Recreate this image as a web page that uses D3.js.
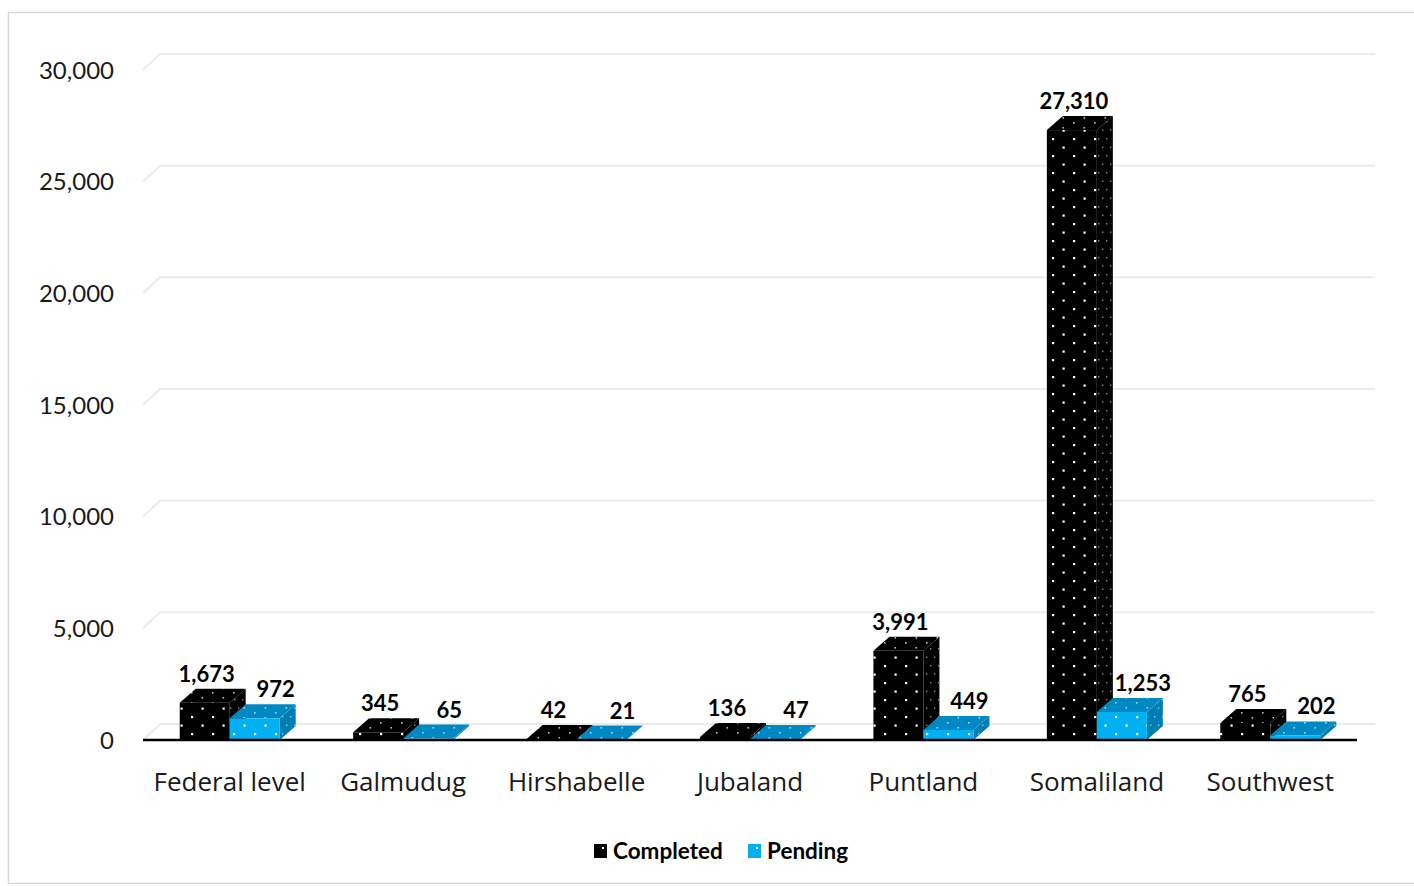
<!DOCTYPE html>
<html>
<head>
<meta charset="utf-8">
<script src="https://cdn.jsdelivr.net/npm/d3@7"></script>
<style>
  body { margin: 0; background: #fff; }
  text { font-family: Lato, "Open Sans", sans-serif; }
</style>
</head>
<body>
<div id="chart"></div>
<script>
// data
const categories = ["Federal level", "Galmudug", "Hirshabelle", "Jubaland", "Puntland", "Somaliland", "Southwest"];
const completed = [1673, 345, 42, 136, 3991, 27310, 765];
const pending = [972, 65, 21, 47, 449, 1253, 202];
const seriesNames = ["Completed", "Pending"];
const yTicks = [0, 5000, 10000, 15000, 20000, 25000, 30000];

const width = 1414, height = 886;
const plotLeft = 143, plotRight = 1357, plotBase = 740, plotTop = 70;
const dx = 17, dy = -16;   // depth of floor/walls
const bdx = 16, bdy = -14; // depth of bars

const svg = d3.select("#chart").append("svg").attr("width", width).attr("height", height);

// patterns
const defs = svg.append("defs");
function dots(id, bg, dot, w, h, r) {
  const p = defs.append("pattern").attr("id", id).attr("patternUnits", "userSpaceOnUse")
    .attr("width", w).attr("height", h);
  p.append("rect").attr("width", w).attr("height", h).attr("fill", bg);
  p.append("rect").attr("x", 2).attr("y", 2).attr("width", r).attr("height", r).attr("fill", dot);
  p.append("rect").attr("x", 2 + w / 2).attr("y", 2 + h / 2).attr("width", r).attr("height", r).attr("fill", dot);
}
dots("cFront", "#000", "#fff", 21, 17, 2.2);
dots("cTop", "#000", "#bbb", 21, 10, 1.6);
dots("cSide", "#000", "#888", 8, 17, 1.4);
dots("pFront", "#00b0f0", "#fff", 21, 17, 2.2);
dots("pTop", "#0088c2", "#9fd6ee", 21, 10, 1.6);
dots("pSide", "#007eb3", "#8fcbe6", 8, 17, 1.4);

// chart border
svg.append("rect").attr("x", 8.5).attr("y", 12.5).attr("width", 1420).attr("height", 871)
  .attr("fill", "none").attr("stroke", "#d9d9d9").attr("stroke-width", 1.5);

const x = d3.scaleBand().domain(categories).range([plotLeft, plotRight]);
const y = d3.scaleLinear().domain([0, 30000]).range([plotBase, plotTop]);

// gridlines on back wall with left wall diagonal
const grid = svg.append("g");
yTicks.forEach(t => {
  grid.append("polyline")
    .attr("points", `${plotLeft},${y(t)} ${plotLeft + dx},${y(t) + dy} ${plotRight + 18},${y(t) + dy}`)
    .attr("fill", "none").attr("stroke", "#ebebeb").attr("stroke-width", 2);
});

// y axis labels
const yAxis = svg.append("g").attr("transform", `translate(${plotLeft - 26},0)`)
  .call(d3.axisLeft(y).tickValues(yTicks).tickSize(0).tickFormat(d3.format(",")));
yAxis.select(".domain").remove();
yAxis.selectAll("text").attr("font-size", 24).attr("fill", "#1a1a1a").attr("dy", "0.34em")
  .style("font-family", "Lato, sans-serif");

// bars
const barW = 50;
const styles = [
  { front: "url(#cFront)", top: "url(#cTop)", side: "url(#cSide)", shift: 2 },
  { front: "url(#pFront)", top: "url(#pTop)", side: "url(#pSide)", shift: 21 }
];
const bars = svg.append("g");
const labels = svg.append("g");
categories.forEach((c, i) => {
  [completed[i], pending[i]].forEach((v, s) => {
    const x0 = x(c) + x.bandwidth() / 2 - barW + s * barW;
    const yt = y(v);
    const g = bars.append("g");
    g.append("polygon").attr("fill", styles[s].side)
      .attr("points", `${x0 + barW},${yt} ${x0 + barW + bdx},${yt + bdy} ${x0 + barW + bdx},${plotBase + bdy} ${x0 + barW},${plotBase}`);
    g.append("polygon").attr("fill", styles[s].top)
      .attr("points", `${x0},${yt} ${x0 + bdx},${yt + bdy} ${x0 + barW + bdx},${yt + bdy} ${x0 + barW},${yt}`);
    g.append("rect").attr("x", x0).attr("y", yt).attr("width", barW).attr("height", plotBase - yt)
      .attr("fill", styles[s].front);
    labels.append("text")
      .attr("x", x0 + barW / 2 + styles[s].shift).attr("y", yt + bdy - 7)
      .attr("text-anchor", "middle").attr("font-size", 22).attr("font-weight", "bold")
      .attr("fill", "#000").text(d3.format(",")(v));
  });
});

// x axis
svg.append("line").attr("x1", plotLeft).attr("x2", plotRight).attr("y1", plotBase).attr("y2", plotBase)
  .attr("stroke", "#000").attr("stroke-width", 2.5);
svg.append("g").selectAll("text").data(categories).enter().append("text")
  .attr("x", d => x(d) + x.bandwidth() / 2).attr("y", 791)
  .attr("text-anchor", "middle").attr("font-size", 26).attr("fill", "#1a1a1a")
  .style("font-family", "'Open Sans', sans-serif").text(d => d);

// legend
const legend = svg.append("g");
const legendX = [594, 748];
seriesNames.forEach((n, i) => {
  legend.append("rect").attr("x", legendX[i]).attr("y", 844).attr("width", 13).attr("height", 14)
    .attr("fill", i === 0 ? "#000" : "#00b0f0");
  legend.append("rect").attr("x", legendX[i] + 8).attr("y", 847).attr("width", 2).attr("height", 2)
    .attr("fill", "#fff");
  legend.append("text").attr("x", legendX[i] + 19).attr("y", 859)
    .attr("font-size", 22.5).attr("font-weight", "bold").attr("fill", "#000").text(n);
});
</script>
</body>
</html>
